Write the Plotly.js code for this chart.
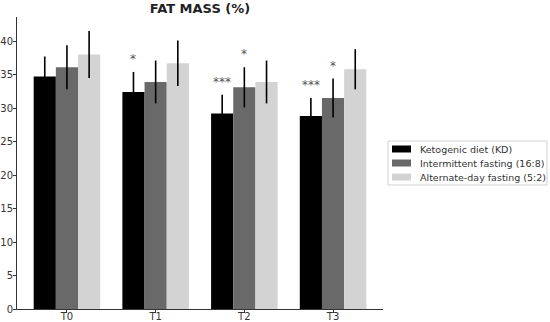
<!DOCTYPE html>
<html>
<head>
<meta charset="utf-8">
<script src="https://cdn.plot.ly/plotly-3.0.1.min.js"></script>
<style>html,body{margin:0;padding:0;background:#fff}#chart{width:550px;height:322px}</style>
</head>
<body>
<div id="chart"></div>
<script>
const categories = ["T0", "T1", "T2", "T3"];
const seriesNames = ["Ketogenic diet (KD)", "Intermittent fasting (16:8)", "Alternate-day fasting (5:2)"];
const kdValues = [34.7, 32.4, 29.2, 28.8];
const kdErrors = [3.0, 3.0, 2.8, 2.7];
const ifValues = [36.1, 33.9, 33.1, 31.5];
const ifErrors = [3.3, 3.2, 3.0, 2.9];
const adfValues = [38.0, 36.7, 33.9, 35.8];
const adfErrors = [3.5, 3.4, 3.2, 3.0];
const kdSig = ["", "*", "***", "***"];
const ifSig = ["", "", "*", "*"];
const adfSig = ["", "", "", ""];

const colors = ["#000000", "#696969", "#d3d3d3"];
const xIdx = categories.map((c, i) => i);
const allValues = [kdValues, ifValues, adfValues];
const allErrors = [kdErrors, ifErrors, adfErrors];
const allSig = [kdSig, ifSig, adfSig];
const offsets = [-0.25, 0, 0.25];

const traces = allValues.map((vals, s) => ({
  type: "bar",
  name: seriesNames[s],
  x: xIdx,
  y: vals,
  showlegend: false,
  marker: {color: colors[s], line: {width: 0}},
  error_y: {type: "data", array: allErrors[s], visible: true, color: "#000", thickness: 1.6, width: 0}
}));

const annotations = [];
allSig.forEach((sig, s) => {
  sig.forEach((t, i) => {
    if (!t) return;
    annotations.push({
      x: xIdx[i] + offsets[s], y: allValues[s][i] + allErrors[s][i] + 0.6,
      xref: "x", yref: "y", text: t, showarrow: false,
      yanchor: "bottom", xanchor: "center",
      font: {family: "DejaVu Sans", size: 12, color: "#555"}
    });
  });
});

// plot area geometry (pixels) for placing the legend box in paper coords
const M = {l: 17, r: 167, t: 17, b: 13};
const PW = 550 - M.l - M.r, PH = 322 - M.t - M.b;
const px = x => (x - M.l) / PW;
const py = y => (322 - M.b - y) / PH;

const shapes = [{
  type: "rect", xref: "paper", yref: "paper",
  x0: px(388), x1: px(547), y0: py(185), y1: py(141),
  line: {color: "#d0d0d0", width: 1}, fillcolor: "#fff", layer: "above"
}];
seriesNames.forEach((name, s) => {
  const cy = 149 + 14 * s;
  shapes.push({
    type: "rect", xref: "paper", yref: "paper",
    x0: px(392), x1: px(411), y0: py(cy + 3.5), y1: py(cy - 3.5),
    line: {width: 0}, fillcolor: colors[s], layer: "above"
  });
  annotations.push({
    x: px(418), y: py(cy), xref: "paper", yref: "paper", text: name,
    showarrow: false, xanchor: "left", yanchor: "middle",
    font: {family: "DejaVu Sans", size: 9.5, color: "#333"}
  });
});

const layout = {
  width: 550, height: 322,
  margin: {l: M.l, r: M.r, t: M.t, b: M.b, autoexpand: false},
  paper_bgcolor: "#fff", plot_bgcolor: "#fff",
  font: {family: "DejaVu Sans", size: 10, color: "#333"},
  title: {text: "<b>FAT MASS (%)</b>", x: 0.3636, xanchor: "center", y: 0.975, yanchor: "middle",
          font: {family: "DejaVu Sans", size: 13, color: "#222"}},
  barmode: "group", bargap: 0.25, bargroupgap: 0,
  showlegend: false,
  xaxis: {range: [-0.563, 3.563], tickvals: xIdx, ticktext: categories,
          showline: true, linecolor: "#333", linewidth: 1, ticks: "outside", ticklen: 3,
          tickcolor: "#333", showgrid: false, zeroline: false, automargin: false,
          ticklabelstandoff: -5,
          tickfont: {family: "DejaVu Sans", size: 10, color: "#333"}},
  yaxis: {range: [0, 43.6], tickvals: [0,5,10,15,20,25,30,35,40],
          showline: true, linecolor: "#333", linewidth: 1, ticks: "outside", ticklen: 3,
          tickcolor: "#333", showgrid: false, zeroline: false, automargin: false,
          ticklabelstandoff: -2,
          tickfont: {family: "DejaVu Sans", size: 10, color: "#333"}},
  shapes: shapes,
  annotations: annotations
};

Plotly.newPlot("chart", traces, layout, {displayModeBar: false, staticPlot: true});
</script>
</body>
</html>
